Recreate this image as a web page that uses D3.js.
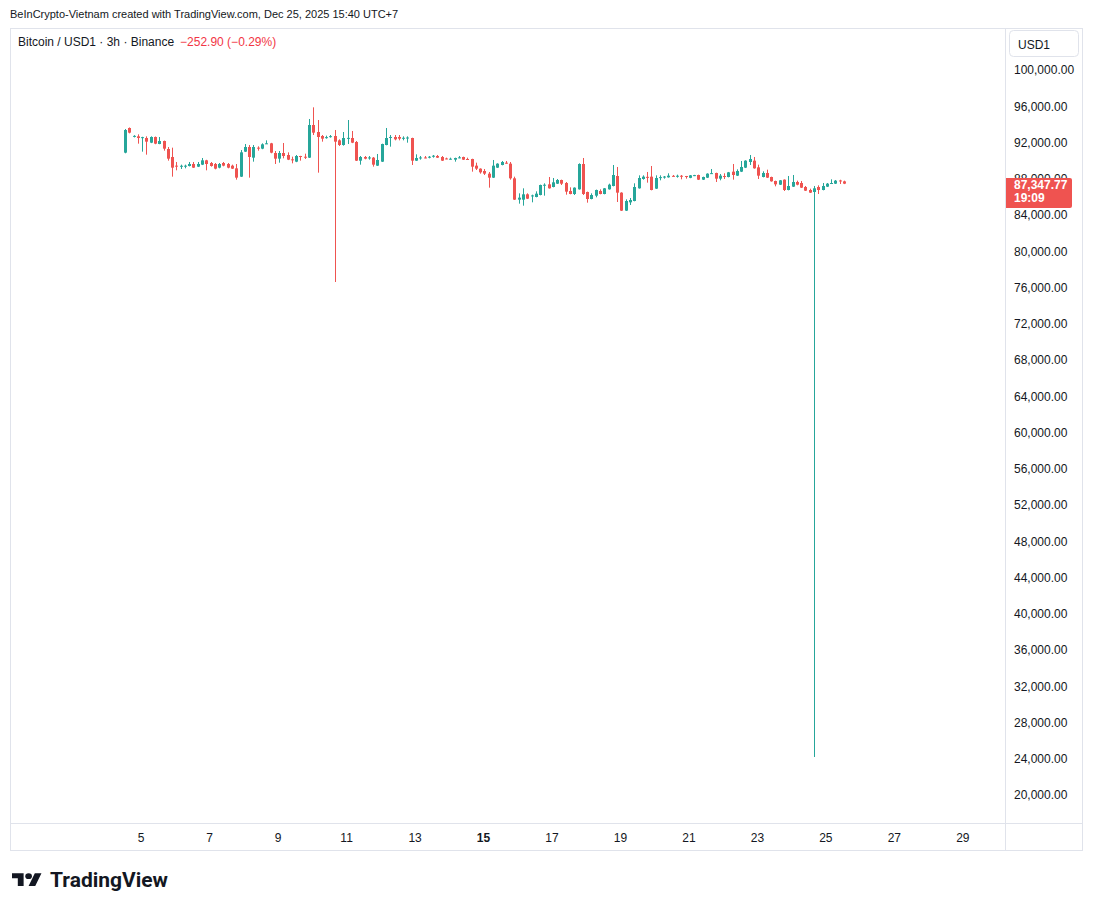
<!DOCTYPE html>
<html>
<head>
<meta charset="utf-8">
<script src="https://cdn.jsdelivr.net/npm/d3@7/dist/d3.min.js"></script>
<style>
html,body{margin:0;padding:0;background:#fff;}
svg{display:block;font-family:"Liberation Sans",Arial,sans-serif;}
</style>
</head>
<body>
<svg id="chart" width="1093" height="911"></svg>
<script>
// ---- Data (3h candles, Bitcoin / USD1, Binance) ----
const firstCandle = [2025, 11, 4, 13]; // Dec 4, 13:00 (UTC+7)
const opens = [
90768,93490,92550,92570,92420,92386,91871,92497,91724,92055,91173,90290,89334,89270,89280,89297,89518,89223,89444,89922,
89628,89518,89113,89628,89518,89334,89039,88120,90878,91393,90216,91320,91209,91760,91798,90731,90106,90731,90511,90033,
89775,90400,90320,90216,93821,93048,92607,92430,92540,92607,92129,91614,92350,92386,91945,89885,90290,90190,90216,89334,
89775,91614,92460,92497,92497,92360,92390,92386,89885,90190,90240,90270,90380,90400,90290,90130,90050,89996,90200,90290,
90070,90070,89334,89003,88745,88451,88010,89113,89407,89660,89554,87936,85582,85582,86171,86000,85876,86097,87180,87274,
86980,87347,87752,87421,86539,86207,86722,89518,86428,85656,86024,86539,86208,86723,87090,88194,86355,84369,85288,85435,
86833,87863,88100,88120,86796,88020,88080,88047,88210,88170,88220,88190,87990,88240,88304,87789,88010,88460,88525,87900,
88190,88083,88672,88231,88672,89113,89739,89886,89150,88083,88525,88083,87642,87237,87789,86649,87017,87532,87421,86980,
86649,86428,86980,86649,87017,87370,87348,87700,87600.67];
const highs = [
93379,93550,92700,92791,92520,92570,92570,92550,92497,92100,91393,91320,89738,89444,89444,89738,89738,89738,90180,89980,
89738,89628,89628,89738,89628,89444,89518,91062,91724,91614,91614,91467,91798,92129,91850,90952,90952,91835,90805,90327,
90511,90420,90658,94483,95770,94372,92717,92644,92717,93269,92240,93048,94372,93159,92055,90400,90400,90400,90290,90621,
91760,93490,92717,92717,92717,92570,92570,92420,90584,90400,90400,90400,90511,90511,90400,90216,90216,90216,90400,90330,
90216,90100,89665,89040,88966,88635,89959,89600,89849,89849,89738,88120,86281,86833,86281,86134,86502,87240,87384,88083,
87973,87862,87790,87531,86943,86940,89591,90180,86470,86281,86690,86723,86870,87348,89407,89187,86400,85619,85766,87385,
88267,88267,88635,89297,88267,88267,88194,88488,88304,88340,88304,88200,88300,88320,88340,88120,88490,88966,88560,88414,
88488,88640,89518,88929,89849,89930,90511,90290,89444,88709,88893,88120,87680,87750,87820,88194,88304,87679,87642,87090,
86796,87090,87164,87421,87421,87826,87752,87780,87680];
const lows = [
90700,92900,92450,91761,90878,90547,91820,91700,91700,90989,89885,88120,88819,88966,89040,89250,89080,89180,89400,88819,
89223,88929,89040,89260,89040,88966,87789,88083,90840,88010,89775,90989,91150,91720,90700,89518,89665,90143,89950,89591,
89720,89885,90070,90180,92717,88561,91982,92313,92423,76496,91504,91540,91724,91820,89850,89444,90033,89996,89223,89300,
89740,91580,91430,92129,92129,92129,91871,89407,89850,89996,90150,90143,90216,90180,89850,90040,90000,89775,90150,89960,
89990,88672,88855,88451,88304,86906,87970,89080,89370,89554,87789,85550,85141,84920,85650,85288,85840,86060,86024,86800,
86940,87310,87200,86134,86170,86097,86690,86097,85251,85620,85840,86170,86170,86690,87050,85325,84330,84330,84994,85400,
86800,87789,87458,86610,86760,87716,87900,88010,88120,88010,87826,87900,87950,88180,87750,87750,87970,88420,87532,87716,
87863,88040,87789,88190,88630,89070,89407,89000,87863,88040,87970,87570,87054,87200,86539,86610,86980,87164,86870,86540,
86320,24083,86208,86610,86980,87340,87310,87310,87300];
const closes = [
93269,92975,92620,92386,92480,91982,92497,91761,92055,91209,90106,89113,89260,89320,89330,89518,89113,89518,89922,89518,
89297,89003,89518,89334,89113,89003,88010,90805,91393,90290,91393,91209,91688,91800,90768,90106,90731,90400,89996,89922,
90400,90330,90260,93821,92975,92497,92313,92480,92590,91982,91614,92386,92400,91871,89885,90290,90106,90240,89444,89959,
91724,92386,92500,92240,92313,92410,92440,89885,90180,90240,90190,90320,90430,90216,89885,90080,90100,90180,90250,89996,
90020,89223,89003,88598,88451,88010,89334,89554,89738,89610,87936,85582,85803,86171,85692,86050,86244,87200,87230,86833,
87495,87752,87347,86465,86207,86906,89518,86208,85656,86097,86649,86208,86833,87237,88304,86355,84369,85435,85546,86980,
87973,88120,88050,86649,87973,88070,88130,88231,88160,88220,88170,88140,88267,88290,87789,88083,88451,88510,87900,88231,
88140,88598,88304,88745,89187,89886,90070,89040,88231,88525,88010,87605,87274,87716,86649,87090,87532,87237,86906,86575,
86355,86833,86649,87090,87348,87420,87679,87600.67,87347.77];
const priceTicks = [20000,24000,28000,32000,36000,40000,44000,48000,52000,56000,60000,64000,68000,72000,76000,80000,84000,88000,92000,96000,100000];
const dayTicks = [5,7,9,11,13,15,17,19,21,23,25,27,29];
const boldDays = [15];
const headerText = "BeInCrypto-Vietnam created with TradingView.com, Dec 25, 2025 15:40 UTC+7";
const legendText = "Bitcoin / USD1 · 3h · Binance";
const changeText = "\u2212252.90 (\u22120.29%)";
const countdownText = "19:09";

// ---- Setup ----
const UP = "#26a69a", DOWN = "#ef5350", TXT = "#131722", LINE = "#e0e3eb";
const svg = d3.select("#chart");
svg.append("rect").attr("width",1093).attr("height",911).attr("fill","#fff");

const candles = opens.map((o,i)=>({
  t: new Date(firstCandle[0], firstCandle[1], firstCandle[2], firstCandle[3] + 3*i),
  o, h: highs[i], l: lows[i], c: closes[i]
}));

const x = d3.scaleTime()
  .domain([new Date(2025,11,5), new Date(2025,11,29)])
  .range([140.7, 962.3]);
const y = d3.scaleLinear().domain([20000,100000]).range([794,69]);

// header
svg.append("text").attr("x",10).attr("y",18).attr("font-size",11).attr("fill",TXT).text(headerText);

// pane frame
svg.append("rect").attr("x",10.5).attr("y",28.5).attr("width",1072).attr("height",822)
  .attr("fill","none").attr("stroke",LINE);
svg.append("line").attr("x1",1005.5).attr("x2",1005.5).attr("y1",28.5).attr("y2",850.5).attr("stroke",LINE);
svg.append("line").attr("x1",10.5).attr("x2",1082.5).attr("y1",823.5).attr("y2",823.5).attr("stroke",LINE);

// legend
const lg = svg.append("text").attr("x",18).attr("y",46).attr("font-size",12).attr("fill",TXT);
lg.append("tspan").text(legendText);
lg.append("tspan").attr("dx",6).attr("fill","#f23645").text(changeText);

// currency box
svg.append("rect").attr("x",1009.5).attr("y",30.5).attr("width",69).attr("height",26).attr("rx",4)
  .attr("fill","#fff").attr("stroke",LINE);
svg.append("text").attr("x",1018).attr("y",49).attr("font-size",12).attr("fill",TXT).text("USD1");

// y axis
const yAxis = d3.axisRight(y).tickValues(priceTicks).tickSize(0).tickPadding(8)
  .tickFormat(d3.format(",.2f"));
const yg = svg.append("g").attr("transform","translate(1006,1)").call(yAxis);
yg.select(".domain").remove();
yg.selectAll("text").attr("font-size",12).attr("fill",TXT).attr("font-family","Liberation Sans, Arial, sans-serif");

// x axis
const xAxis = d3.axisBottom(x)
  .tickValues(dayTicks.map(d=>new Date(2025,11,d)))
  .tickFormat(d3.timeFormat("%-d")).tickSize(0).tickPadding(10);
const xg = svg.append("g").attr("transform","translate(0,823)").call(xAxis);
xg.select(".domain").remove();
xg.selectAll("text").attr("font-size",12).attr("fill",TXT).attr("font-family","Liberation Sans, Arial, sans-serif")
  .attr("font-weight", d => boldDays.includes(d.getDate()) ? "bold" : "normal");

// candles
const cg = svg.append("g");
cg.selectAll("line.wick").data(candles).join("line").attr("class","wick")
  .attr("x1",d=>Math.round(x(d.t))+0.5).attr("x2",d=>Math.round(x(d.t))+0.5)
  .attr("y1",d=>y(d.h)).attr("y2",d=>y(d.l))
  .attr("stroke",d=>d.c>=d.o?UP:DOWN).attr("stroke-width",1);
cg.selectAll("rect.body").data(candles).join("rect").attr("class","body")
  .attr("x",d=>Math.round(x(d.t))-1).attr("width",3)
  .attr("y",d=>y(Math.max(d.o,d.c)))
  .attr("height",d=>Math.max(1, Math.abs(y(d.o)-y(d.c))))
  .attr("fill",d=>d.c>=d.o?UP:DOWN);

// last price label (covers the 88,000.00 tick as in TradingView)
const last = candles[candles.length-1];
const ly = y(last.c);
const pl = svg.append("g");
pl.append("path")
  .attr("d",`M1006,${ly-5.7} H1070 a2,2 0 0 1 2,2 V${ly+22.3} a2,2 0 0 1 -2,2 H1006 Z`)
  .attr("fill",DOWN);
pl.append("text").attr("x",1014).attr("y",ly+5.3).attr("font-size",12).attr("font-weight","bold").attr("fill","#fff")
  .text(d3.format(",.2f")(last.c));
pl.append("text").attr("x",1014).attr("y",ly+18.3).attr("font-size",12).attr("font-weight","bold").attr("fill","#fff")
  .text(countdownText);

// logo
const logo = svg.append("g").attr("transform","translate(12,873.3) scale(0.83,0.71)").attr("fill","#131722");
logo.append("path").attr("d","M14 22H7V11H0V4h14v18zM28 22h-8l7.5-18h8L28 22z").attr("transform","translate(0,-4)");
logo.append("circle").attr("cx",20).attr("cy",4).attr("r",4);
svg.append("text").attr("x",50).attr("y",887).attr("font-size",20).attr("font-weight","bold")
  .attr("textLength",118).attr("lengthAdjust","spacingAndGlyphs")
  .attr("font-family","Roboto, Liberation Sans, sans-serif").attr("fill","#131722").text("TradingView");
</script>
</body>
</html>
